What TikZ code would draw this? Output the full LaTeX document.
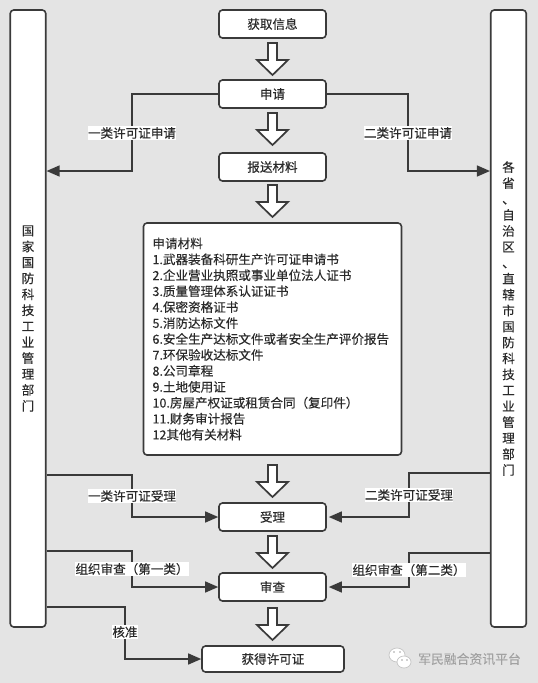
\documentclass[tikz,border=0pt]{standalone}
\usepackage{fontspec}
\usepackage{xcolor}
\usetikzlibrary{arrows.meta,backgrounds}
\setmainfont[FakeBold=0.2]{Noto Sans CJK SC}
\definecolor{page}{HTML}{E4E4E4}
\definecolor{ink}{HTML}{3A3A3A}
\definecolor{words}{HTML}{2A2A2A}
\definecolor{wmgray}{HTML}{A2A2A2}
\tikzset{
  stage/.style={draw=ink, fill=white, rounded corners=0.7mm, line width=0.32mm,
                minimum width=21.4mm, minimum height=5.6mm, inner sep=0pt,
                text=words, font=\fontsize{7.15pt}{9.07pt}\selectfont},
  bar/.style={stage, minimum width=7.1mm, minimum height=123.4mm, align=center},
  listbox/.style={stage, minimum width=51.6mm, minimum height=46.4mm,
                  text width=48mm, align=left},
  flow/.style={-{Triangle[length=2.6mm,width=2.2mm]}, line width=0.28mm, draw=ink},
  tag/.style={fill=white, inner xsep=0pt, inner ysep=0.2mm, text=words,
              font=\fontsize{7.15pt}{9.07pt}\selectfont},
  bigarrow/.style={draw=ink, fill=white, line width=0.34mm, line join=miter}
}

\begin{document}
\begin{tikzpicture}[x=0.2mm,y=-0.2mm]
    \useasboundingbox (0,0) rectangle (538,683);

    % Side bars
    \node[bar] (national) at (28,318.5) {国\\家\\国\\防\\科\\技\\工\\业\\管\\理\\部\\门};
    \node[bar] (province) at (508.5,318.5) {各\\省\\、\\自\\治\\区\\、\\直\\辖\\市\\国\\防\\科\\技\\工\\业\\管\\理\\部\\门};

    % Main column
    \node[stage] (info) at (272.5,24) {获取信息};
    \node[stage] (apply) at (272.5,94) {申请};
    \node[stage] (submit) at (272.5,167) {报送材料};
    \node[listbox] (materials) at (272.5,339) {申请材料\\
      1.武器装备科研生产许可证申请书\\
      2.企业营业执照或事业单位法人证书\\
      3.质量管理体系认证证书\\
      4.保密资格证书\\
      5.消防达标文件\\
      6.安全生产达标文件或者安全生产评价报告\\
      7.环保验收达标文件\\
      8.公司章程\\
      9.土地使用证\\
      10.房屋产权证或租赁合同（复印件）\\
      11.财务审计报告\\
      12其他有关材料};
    \node[stage] (accept) at (272.5,517) {受理};
    \node[stage] (review) at (272.5,587) {审查};
    \node[stage, minimum width=28.4mm, minimum height=5.2mm] (permit) at (273,659) {获得许可证};

    % Hollow arrows between the stages
    \foreach \ay in {43,113,185,465,536,608} {
      \draw[bigarrow] (268,\ay) -- (277,\ay) -- (277,\ay+17) -- (288,\ay+17)
        -- (272.5,\ay+32) -- (257,\ay+17) -- (268,\ay+17) -- cycle;
    }

    % Labels on the connectors
    \node[tag] (applyone) at (132,133) {一类许可证申请};
    \node[tag] (applytwo) at (408,133) {二类许可证申请};
    \node[tag] (acceptone) at (132,496) {一类许可证受理};
    \node[tag] (accepttwo) at (409,495) {二类许可证受理};
    \node[tag] (reviewone) at (132,569) {组织审查（第一类）};
    \node[tag] (reviewtwo) at (409,570) {组织审查（第二类）};
    \node[tag] (approve) at (125,632) {核准};

    % Connectors go under the labels
    \begin{scope}[on background layer]
      \fill[page] (0,0) rectangle (538,683);
      \draw[flow] (apply.west) -| (applyone.center) |- (national.east |- 0,171);
      \draw[flow] (apply.east) -| (applytwo.center) |- (province.west |- 0,171);
      \draw[flow] (national.east |- 0,475) -| (acceptone.center) |- (accept.west);
      \draw[flow,shorten >=0.4mm] (province.west |- 0,473) -| (accepttwo.center) |- (accept.east);
      \draw[flow] (national.east |- 0,551) -| (reviewone.center) |- (review.west);
      \draw[flow,shorten >=0.4mm] (province.west |- 0,553) -| (reviewtwo.center) |- (review.east);
      \draw[flow] (national.east |- 0,607) -| (approve.center) |- (permit.west);
    \end{scope}

    % Watermark
    \draw[wmgray!60, fill=white, line width=0.15mm] (397,655) ellipse (8 and 7);
    \draw[wmgray!60, fill=white, line width=0.15mm] (404,662) ellipse (7 and 6);
    \fill[wmgray] (394,652) circle (0.9) (400,652) circle (0.9) (402,660) circle (0.8) (407,660) circle (0.8);
    \node[text=wmgray, inner sep=0pt, font=\fontsize{7.3pt}{9pt}\selectfont] (platform) at (469.5,659) {军民融合资讯平台};
\end{tikzpicture}
\end{document}
